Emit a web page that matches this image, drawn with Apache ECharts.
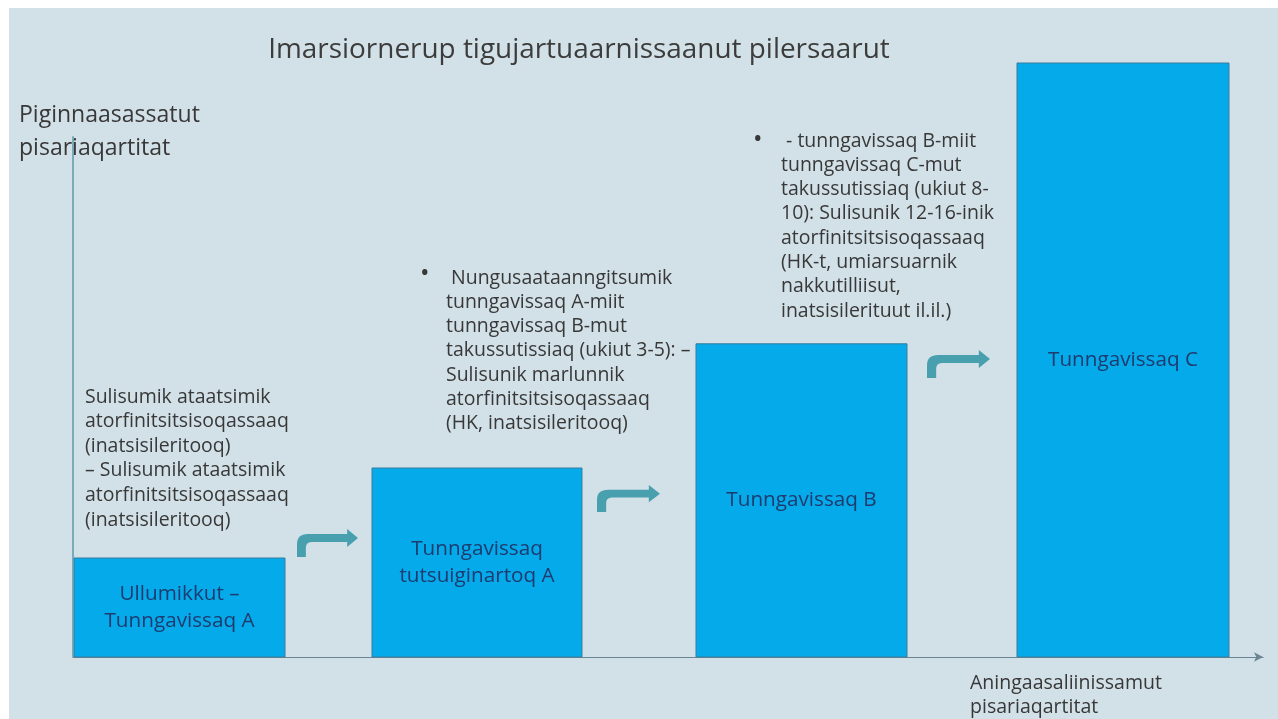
<!DOCTYPE html>
<html><head><meta charset="utf-8">
<script src="https://cdn.jsdelivr.net/npm/echarts@6/dist/echarts.min.js"></script>
<style>html,body{margin:0;padding:0;background:#fff}#c{width:1278px;height:719px}</style>
</head><body><div id="c"></div>
<script>
// ---- data ----
const titleText = 'Imarsiornerup tigujartuaarnissaanut pilersaarut';
const yAxisName = ['Piginnaasassatut', 'pisariaqartitat'];
const xAxisName = ['Aningaasaliinissamut', 'pisariaqartitat'];
const stageNames = ['Ullumikkut –\nTunngavissaq A', 'Tunngavissaq\ntutsuiginartoq A', 'Tunngavissaq B', 'Tunngavissaq C'];
const stageStart = [0.1, 29.9, 62.3, 94.4];
const stageEnd = [21.2, 50.9, 83.4, 115.6];
const skillNeed = [16.5, 31.5, 52.2, 99];
const yAxisTop = 86.8;
const note1 = ['Sulisumik ataatsimik', 'atorfinitsitsisoqassaaq', '(inatsisileritooq)', '– Sulisumik ataatsimik', 'atorfinitsitsisoqassaaq', '(inatsisileritooq)'];
const note2 = [' Nungusaataanngitsumik', 'tunngavissaq A-miit', 'tunngavissaq B-mut', 'takussutissiaq (ukiut 3-5): –', 'Sulisunik marlunnik', 'atorfinitsitsisoqassaaq', '(HK, inatsisileritooq)'];
const note3 = [' - tunngavissaq B-miit', 'tunngavissaq C-mut', 'takussutissiaq (ukiut 8-', '10): Sulisunik 12-16-inik', 'atorfinitsitsisoqassaaq', '(HK-t, umiarsuarnik', 'nakkutilliisut,', 'inatsisilerituut il.il.)'];

// ---- helpers ----
const FAM = '"Open Sans", sans-serif';
const mctx = document.createElement('canvas').getContext('2d');
function fit(text, target) { mctx.font = '100px ' + FAM; return 100 * target / mctx.measureText(text).width; }

const titleSize = fit(titleText, 622);
const yNameSize = fit(yAxisName[0], 181);
const xNameSize = fit(xAxisName[0], 192);
const noteSize = fit('atorfinitsitsisoqassaaq', 204);
const barLabelSize = fit('Tunngavissaq C', 150);

const textColor = '#383838';
function block(lines, x, firstY, lh, size, extra) {
  return Object.assign({
    type: 'text', z: 5, silent: true,
    style: { text: lines.join('\n'), x: x, y: firstY - lh / 2, font: size.toFixed(2) + 'px ' + FAM, fill: textColor, lineHeight: lh, verticalAlign: 'top', align: 'left' }
  }, extra || {});
}
// bent arrow outline in a 62x28 box
function quad(p0, c, p1, n) {
  const pts = [];
  for (let i = 1; i <= n; i++) {
    const t = i / n, u = 1 - t;
    pts.push([u * u * p0[0] + 2 * u * t * c[0] + t * t * p1[0], u * u * p0[1] + 2 * u * t * c[1] + t * t * p1[1]]);
  }
  return pts;
}
const arrowShape = [[0, 28], [0, 15]]
  .concat(quad([0, 15], [0, 5], [11, 5], 8))
  .concat([[51, 5], [51, 0], [62, 9], [51, 18], [51, 13], [15, 13]])
  .concat(quad([15, 13], [9, 13], [9, 19], 6))
  .concat([[9, 28]]);
function arrow(x, y, w, h) {
  const pts = arrowShape.map(p => [x + p[0] * w / 62, y + p[1] * h / 28]);
  return { type: 'polygon', z: 5, silent: true, shape: { points: pts }, style: { fill: '#48a0ae' } };
}

const chart = echarts.init(document.getElementById('c'));
chart.setOption({
  backgroundColor: '#ffffff',
  animation: false,
  grid: { left: 73, right: 15, top: 57, bottom: 62, containLabel: false },
  xAxis: {
    type: 'value', min: 0, max: 119,
    axisLine: { show: true, symbol: ['none', 'arrow'], symbolSize: [7, 9], lineStyle: { color: '#6a8593', width: 1.2 } },
    axisTick: { show: false }, axisLabel: { show: false }, splitLine: { show: false }
  },
  yAxis: {
    type: 'value', min: 0, max: 100,
    axisLine: { show: false }, axisTick: { show: false }, axisLabel: { show: false }, splitLine: { show: false }
  },
  graphic: [
    { type: 'rect', z: -10, silent: true, shape: { x: 9, y: 8, width: 1278, height: 719 }, style: { fill: '#d2e0e7' } },
    { type: 'text', z: 5, silent: true, style: { text: titleText, x: 579, y: 50, font: titleSize.toFixed(2) + 'px ' + FAM, fill: '#3c3c3c', align: 'center', verticalAlign: 'middle' } },
    block(yAxisName, 19, 115, 33, yNameSize),
    block(xAxisName, 970, 683, 24, xNameSize),
    block(note1, 85, 397, 24.6, noteSize),
    block(note2, 446, 278, 24.3, noteSize),
    block(['•'], 420, 274, 24, noteSize * 1.3),
    block(note3, 781, 141, 24.3, noteSize),
    block(['•'], 753, 140, 24, noteSize * 1.3),
    arrow(297, 529, 61, 28),
    arrow(597, 485, 63, 27),
    arrow(927, 350, 63, 28)
  ],
  series: [
    {
      type: 'custom',
      z: 2,
      data: stageNames.map((n, i) => ({ name: n, value: [stageStart[i], stageEnd[i], skillNeed[i]] })),
      renderItem: function (params, api) {
        const p0 = api.coord([api.value(0), api.value(2)]);
        const p1 = api.coord([api.value(1), 0]);
        return {
          type: 'rect',
          shape: { x: p0[0], y: p0[1], width: p1[0] - p0[0], height: p1[1] - p0[1] },
          style: { fill: '#05aaea', stroke: '#3a7d9c', lineWidth: 1 },
          textContent: {
            style: { text: stageNames[params.dataIndex], font: barLabelSize.toFixed(2) + 'px ' + FAM, fill: '#1d3b6e', align: 'center', lineHeight: 27 }
          },
          textConfig: { position: 'inside' }
        };
      }
    },
    {
      type: 'line', z: 3, showSymbol: false, silent: true,
      data: [[0, 0], [0, yAxisTop]],
      lineStyle: { color: '#4e8ea5', width: 1.3 }
    }
  ]
});
</script></body></html>
